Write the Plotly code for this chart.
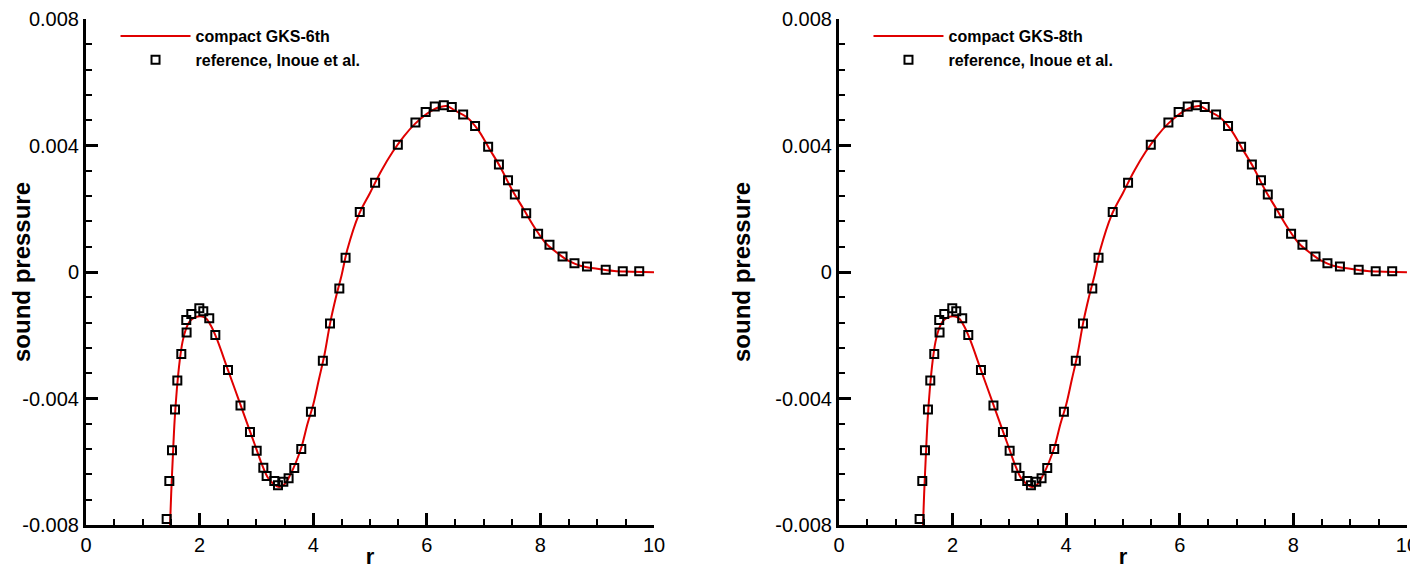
import plotly.graph_objects as go
from plotly.subplots import make_subplots

# reference data, Inoue et al.
ref_r = [1.42, 1.467, 1.514, 1.567, 1.608, 1.678, 1.771, 1.765, 1.854, 1.995, 2.065,
         2.17, 2.277, 2.5, 2.72, 2.887, 3.005, 3.122, 3.18, 3.315, 3.38, 3.474, 3.567,
         3.667, 3.79, 3.96, 4.17, 4.296, 4.46, 4.57, 4.82, 5.09, 5.49, 5.80, 5.98, 6.14,
         6.30, 6.44, 6.64, 6.85, 7.08, 7.27, 7.43, 7.55, 7.75, 7.96, 8.16, 8.39, 8.60,
         8.82, 9.15, 9.45, 9.74]
ref_p = [-0.00781, -0.00661, -0.00564, -0.00435, -0.00343, -0.00259, -0.00191, -0.00152,
         -0.00133, -0.00115, -0.00124, -0.00146, -0.00199, -0.0031, -0.00422, -0.00506,
         -0.00565, -0.00619, -0.00645, -0.00661, -0.00674, -0.00663, -0.00652, -0.0062,
         -0.0056, -0.00442, -0.00281, -0.00163, -0.00052, 0.00045, 0.0019, 0.00282,
         0.00402, 0.00473, 0.00506, 0.00523, 0.00527, 0.00522, 0.00498, 0.00462, 0.00396,
         0.0034, 0.0029, 0.00245, 0.00186, 0.00121, 0.00086, 0.00049, 0.00028, 0.00017,
         0.00007, 0.00002, 0.00002]

# compact GKS solution
gks_r = [1.48, 1.50, 1.53, 1.56, 1.60, 1.65, 1.70, 1.76, 1.82, 1.90, 2.0, 2.05, 2.12,
         2.2, 2.3, 2.5, 2.7, 2.9, 3.0, 3.1, 3.2, 3.3, 3.4, 3.5, 3.6, 3.7, 3.8, 3.9, 4.0,
         4.1, 4.2, 4.3, 4.4, 4.5, 4.6, 4.8, 5.0, 5.2, 5.4, 5.6, 5.8, 6.0, 6.2, 6.35, 6.5,
         6.7, 6.9, 7.1, 7.3, 7.5, 7.7, 7.9, 8.1, 8.3, 8.5, 8.7, 9.0, 9.3, 9.6, 10.0]
gks_p = [-0.0080, -0.0070, -0.0058, -0.0047, -0.0037, -0.0028, -0.0022, -0.0018,
         -0.00158, -0.00145, -0.00140, -0.00141, -0.00148, -0.0017, -0.0021, -0.0031,
         -0.0041, -0.0051, -0.0056, -0.0061, -0.0065, -0.0067, -0.0068, -0.0067, -0.0064,
         -0.0060, -0.0055, -0.0048, -0.0042, -0.0034, -0.0026, -0.0016, -0.0008, -0.0001,
         0.0007, 0.0018, 0.0025, 0.0032, 0.0038, 0.0043, 0.0047, 0.0050, 0.0052, 0.00525,
         0.0051, 0.0049, 0.0045, 0.0039, 0.0033, 0.0026, 0.0020, 0.0014, 0.0009, 0.0006,
         0.00035, 0.0002, 0.0001, 0.00003, 0.00001, -0.00001]

schemes = ["compact GKS-6th", "compact GKS-8th"]
x_ticks = [0, 2, 4, 6, 8, 10]
y_ticks = [-0.008, -0.004, 0, 0.004, 0.008]
y_labels = ["-0.008", "-0.004", "0", "0.004", "0.008"]

FONT = "Liberation Sans, Arial, Helvetica, sans-serif"

fig = make_subplots(rows=1, cols=2)

for i, name in enumerate(schemes):
    col = i + 1
    leg = "legend" if i == 0 else "legend2"
    fig.add_trace(go.Scatter(
        x=gks_r, y=gks_p, mode="lines", name=f"<b>{name}</b>", line_shape="spline",
        line=dict(color="#e00000", width=2), legend=leg
    ), row=1, col=col)
    fig.add_trace(go.Scatter(
        x=ref_r, y=ref_p, mode="markers", name="<b>reference, Inoue et al.</b>",
        marker=dict(symbol="square-open", size=8, color="black", line=dict(width=2)),
        legend=leg
    ), row=1, col=col)

axis_common = dict(
    showline=True, linecolor="black", linewidth=3, mirror=False,
    ticks="inside", ticklen=12, tickwidth=3, tickcolor="black",
    showgrid=False, zeroline=False, automargin=False, ticklabeloverflow="allow",
    tickfont=dict(family=FONT, size=20, color="black"),
)

for col, dom in [(1, [0.0, 0.429]), (2, [0.5687, 0.9977])]:
    fig.update_xaxes(
        range=[0, 10], tickvals=x_ticks, domain=dom,
        minor=dict(ticks="inside", ticklen=6, tickwidth=2, tickcolor="black", dtick=0.5, tick0=0),
        title=dict(text="<b>r</b>", font=dict(family=FONT, size=22, color="black"), standoff=0),
        row=1, col=col, **axis_common
    )
    fig.update_yaxes(
        range=[-0.008, 0.008], tickvals=y_ticks, ticktext=y_labels,
        minor=dict(ticks="inside", ticklen=6, tickwidth=2, tickcolor="black", dtick=0.0008, tick0=0),
        title=dict(text="<b>sound pressure</b>", font=dict(family=FONT, size=24, color="black"), standoff=18),
        row=1, col=col, **axis_common
    )

legend_style = dict(
    font=dict(family=FONT, size=16, color="black"),
    bgcolor="rgba(0,0,0,0)", borderwidth=0,
    xanchor="left", yanchor="top", tracegroupgap=0, itemwidth=70,
)
fig.update_layout(
    legend=dict(x=0.0223, y=1.0, **legend_style),
    legend2=dict(x=0.591, y=1.0, **legend_style),
)

fig.update_layout(
    width=1410, height=561,
    margin=dict(l=78, r=8, t=11, b=44),
    plot_bgcolor="white", paper_bgcolor="white",
    font=dict(family=FONT, color="black"),
)

fig.write_html("out.html")
